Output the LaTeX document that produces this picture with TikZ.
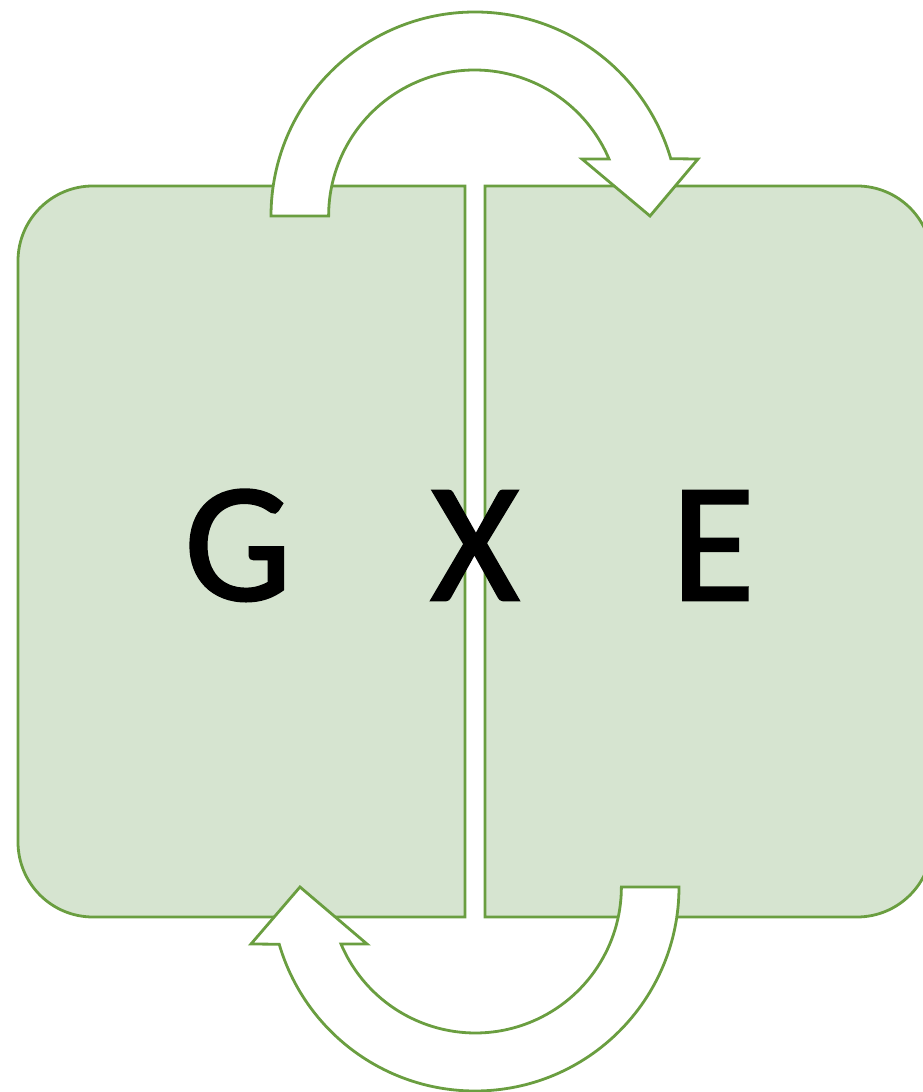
\documentclass[tikz,border=0pt]{standalone}
\usepackage{fontspec}
\setmainfont{Carlito}
\newfontfamily\heavyletters[FakeBold=1.6]{Carlito}
\definecolor{boxfill}{HTML}{D6E4D0}
\definecolor{boxline}{HTML}{6A9E40}
\begin{document}
\begin{tikzpicture}[x=1pt,y=1pt,
  panel/.style={draw=boxline,fill=boxfill,line width=2.8pt,line join=miter},
  bentarrow/.style={draw=boxline,fill=white,line width=2.8pt,line join=miter},
  letter/.style={font=\heavyletters\fontsize{170}{170}\selectfont,anchor=base,inner sep=0pt}]
\useasboundingbox (0,0) rectangle (923,1092);
\clip (0,0) rectangle (923,1092);

% left panel, rounded on its outer side
\path[panel] (465,175) -- (465,906) -- (93,906) arc[start angle=90,end angle=180,radius=75]
  -- (18,250) arc[start angle=180,end angle=270,radius=75] -- cycle;
% right panel, rounded on its outer side
\path[panel] (485,175) -- (485,906) -- (857,906) arc[start angle=90,end angle=0,radius=75]
  -- (932,250) arc[start angle=0,end angle=-90,radius=75] -- cycle;

% upper circular arrow, pointing right
\path[bentarrow] (271,876) arc[start angle=180,end angle=16.3,radius=204]
  -- (698,933) -- (650,876) -- (582,933) -- (609,933)
  arc[start angle=23,end angle=180,radius=146] -- cycle;
% lower circular arrow, pointing left
\path[bentarrow] (679,205) arc[start angle=0,end angle=-163.7,radius=204]
  -- (251,148) -- (300,205) -- (367,148) -- (341,148)
  arc[start angle=-157,end angle=0,radius=146] -- cycle;

\node[letter] (g) at (238,492) {G};
\node[letter] (x) at (475,492) {X};
\node[letter] (e) at (713,492) {E};
\end{tikzpicture}
\end{document}
